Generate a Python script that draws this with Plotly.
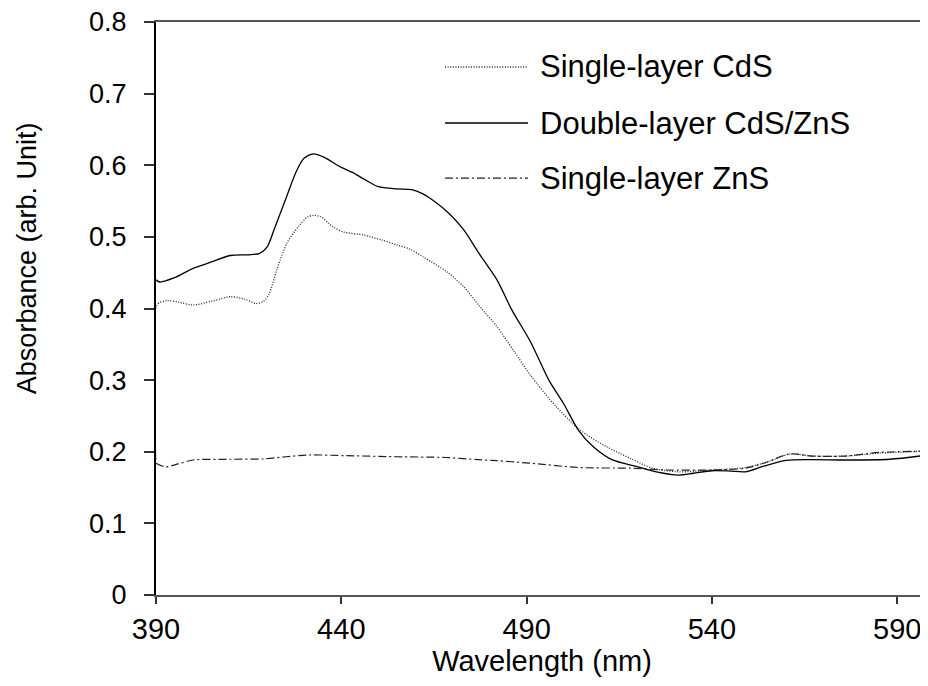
import plotly.graph_objects as go

# ---- data ----
wl_double = [390, 391, 395, 400, 405, 410, 415, 418, 420, 422, 425, 428, 430, 432.5, 435,
             440, 443, 446, 450, 455, 459, 462, 465, 469, 473, 477, 482, 486, 491, 496,
             500, 504, 508, 513, 520, 525, 531, 535, 540, 545, 549, 554, 560, 567, 576,
             588, 598.3]
abs_double = [0.440, 0.437, 0.443, 0.456, 0.465, 0.474, 0.475, 0.477, 0.486, 0.512, 0.553,
              0.593, 0.610, 0.616, 0.612, 0.597, 0.590, 0.581, 0.570, 0.567, 0.566, 0.560,
              0.550, 0.533, 0.510, 0.478, 0.440, 0.398, 0.354, 0.300, 0.267, 0.230, 0.207,
              0.189, 0.179, 0.172, 0.1675, 0.170, 0.1735, 0.173, 0.172, 0.180, 0.188, 0.189,
              0.1885, 0.1895, 0.1955]

wl_cds = [390, 390.3, 393, 396, 400, 405, 410, 414, 417, 419, 420.5, 422.6, 425.3, 428.5,
          431, 432.5, 434.5, 437.5, 440.5, 446, 451, 455, 458.5, 462, 468.4, 473, 477.4,
          482, 486.4, 491, 498, 504.4, 511.6, 518, 524, 531, 540, 549, 555, 561, 567, 576,
          585, 598.3]
abs_cds = [0.19, 0.405, 0.411, 0.409, 0.405, 0.410, 0.4165, 0.413, 0.407, 0.410, 0.420,
           0.454, 0.491, 0.515, 0.528, 0.530, 0.528, 0.515, 0.507, 0.5026, 0.4956, 0.4887,
           0.483, 0.4723, 0.4514, 0.4305, 0.4025, 0.3746, 0.342, 0.307, 0.263, 0.2304,
           0.207, 0.1908, 0.177, 0.172, 0.1745, 0.178, 0.186, 0.1969, 0.194, 0.194, 0.198,
           0.201]

wl_zns = [390, 392.5, 396, 400, 410, 419, 425, 431.5, 441.5, 455, 468, 477, 482, 491, 504,
          518, 528, 540, 549, 554, 561, 567, 576, 585, 598.3]
abs_zns = [0.184, 0.179, 0.183, 0.1885, 0.1895, 0.190, 0.193, 0.1955, 0.1945, 0.193, 0.192,
           0.189, 0.1875, 0.184, 0.178, 0.177, 0.1745, 0.1745, 0.177, 0.1839, 0.197, 0.194,
           0.194, 0.199, 0.201]

series_names = ["Single-layer CdS", "Double-layer CdS/ZnS", "Single-layer ZnS"]
x_ticks = [390, 440, 490, 540, 590]
y_ticks = [0, 0.1, 0.2, 0.3, 0.4, 0.5, 0.6, 0.7, 0.8]

FONT = "Liberation Sans, Arial, sans-serif"
dashes = ["1px,1.6px", "solid", "8px,3px,2px,3px"]
widths = [1.3, 1.3, 1.2]
colors = ["#222222", "#000000", "#222222"]

fig = go.Figure()
for name, xs, ys, d, w, c in zip(series_names,
                                 [wl_cds, wl_double, wl_zns],
                                 [abs_cds, abs_double, abs_zns],
                                 dashes, widths, colors):
    fig.add_trace(go.Scatter(x=xs, y=ys, mode="lines", name=name,
                             line=dict(color=c, width=w, dash=d,
                                       shape="spline", smoothing=0.8),
                             showlegend=False))

# custom legend (long sample lines as in the reference)
leg_y = [0.9215, 0.8237, 0.7277]
for name, yy, d, w, c in zip(series_names, leg_y, dashes, widths, colors):
    fig.add_shape(type="line", xref="paper", yref="paper",
                  x0=0.3744, x1=0.4819, y0=yy, y1=yy,
                  line=dict(color=c, width=w, dash=d))
    fig.add_annotation(text=name, xref="paper", yref="paper", x=0.4948, y=yy,
                       xanchor="left", yanchor="middle", showarrow=False,
                       font=dict(family=FONT, size=31, color="#000000"))

# y-axis title (placed as in the reference, above plot centre)
fig.add_annotation(text="Absorbance (arb. Unit)", xref="paper", yref="paper",
                   x=-0.167, y=0.588, xanchor="center", yanchor="middle",
                   textangle=-90, showarrow=False,
                   font=dict(family=FONT, size=27, color="#000000"))

# the page places the figure 8px from the top-left corner; compensate
fig.update_layout(
    width=920, height=678,
    margin=dict(l=148, r=0, t=14, b=91, autoexpand=False),
    paper_bgcolor="white", plot_bgcolor="white",
    font=dict(family=FONT, color="#000000"),
    xaxis=dict(range=[390, 598.3], tickvals=x_ticks, ticktext=[str(v) for v in x_ticks],
               showgrid=False, zeroline=False, showline=True, linecolor="#555555",
               linewidth=2, mirror=True, ticks="outside", ticklen=7, tickwidth=1.5,
               tickcolor="#333333", tickfont=dict(family=FONT, size=29),
               ticklabelstandoff=0, automargin=False, ticklabeloverflow="allow",
               title=dict(text="Wavelength (nm)", font=dict(family=FONT, size=29),
                          standoff=6)),
    yaxis=dict(range=[0, 0.8], tickvals=y_ticks,
               ticktext=["0", "0.1", "0.2", "0.3", "0.4", "0.5", "0.6", "0.7", "0.8"],
               showgrid=False, zeroline=False, showline=True, linecolor="#000000",
               linewidth=2, ticks="outside", ticklen=10, tickwidth=1.5,
               tickcolor="#333333", tickfont=dict(family=FONT, size=27),
               ticklabelstandoff=12, automargin=False, ticklabeloverflow="allow"),
)

fig.write_html("out.html")
